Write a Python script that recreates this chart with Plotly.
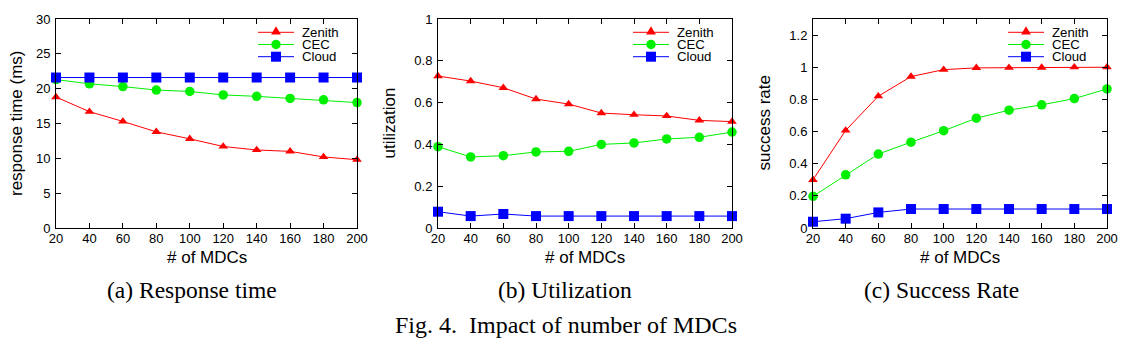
import math
import plotly.graph_objects as go

# browser window size; the page body adds an 8px margin around the figure
WIN_W, WIN_H = 1130, 359
OFF = 8
W, H = WIN_W - 2 * OFF, WIN_H - 2 * OFF

mdcs = [20, 40, 60, 80, 100, 120, 140, 160, 180, 200]

rt_zenith = [18.8, 16.7, 15.3, 13.8, 12.8, 11.7, 11.2, 11.0, 10.2, 9.8]
rt_cec = [21.3, 20.7, 20.3, 19.8, 19.6, 19.1, 18.9, 18.6, 18.4, 18.0]
rt_cloud = [21.6, 21.6, 21.6, 21.6, 21.6, 21.6, 21.6, 21.6, 21.6, 21.6]

ut_zenith = [0.727, 0.703, 0.671, 0.617, 0.593, 0.550, 0.542, 0.536, 0.515, 0.509]
ut_cec = [0.389, 0.340, 0.346, 0.364, 0.367, 0.400, 0.407, 0.426, 0.434, 0.459]
ut_cloud = [0.078, 0.057, 0.067, 0.057, 0.057, 0.057, 0.057, 0.057, 0.057, 0.057]

sr_zenith = [0.30, 0.607, 0.82, 0.942, 0.985, 0.996, 0.997, 0.998, 1.0, 1.0]
sr_cec = [0.197, 0.331, 0.46, 0.534, 0.605, 0.683, 0.733, 0.766, 0.805, 0.865]
sr_cloud = [0.039, 0.058, 0.097, 0.118, 0.118, 0.118, 0.118, 0.118, 0.118, 0.118]

series_names = ["Zenith", "CEC", "Cloud"]
colors = ["#ff0000", "#00f000", "#0000ff"]
symbols = ["triangle-up", "circle", "square"]
msizes = [8.5, 9.5, 10]

panels = [
    dict(data=[rt_zenith, rt_cec, rt_cloud], ytitle="response time (ms)",
         yrange=[0, 30], ytick=5, caption="(a) Response time", px=(56, 357),
         ytx=16.5, capx=192),
    dict(data=[ut_zenith, ut_cec, ut_cloud], ytitle="utilization",
         yrange=[0, 1], ytick=0.2, caption="(b) Utilization", px=(438, 732),
         ytx=389, capx=565),
    dict(data=[sr_zenith, sr_cec, sr_cloud], ytitle="success rate",
         yrange=[0, 1.3], ytick=0.2, caption="(c) Success Rate", px=(813, 1107),
         ytx=764, capx=941),
]

top_px, bot_px = 19, 228

SANS = "Liberation Sans, Arial, Helvetica, sans-serif"
SERIF = "Liberation Serif, Times New Roman, serif"


def fx(px):
    return (px - OFF) / W


def fy(py):
    return 1 - (py - OFF) / H


ydom = [fy(bot_px), fy(top_px)]

fig = go.Figure()
axfont = dict(family=SANS, size=13, color="black")
shapes = []
annotations = []


def label(text, x, y, size, family=SANS, xanchor="center", angle=0, pad=1):
    annotations.append(dict(text=text, xref="paper", yref="paper",
                            x=fx(x), y=fy(y), xanchor=xanchor, yanchor="middle",
                            textangle=angle, showarrow=False, borderpad=pad,
                            font=dict(family=family, size=size, color="black")))


for i, p in enumerate(panels):
    n = "" if i == 0 else str(i + 1)
    for s in range(3):
        fig.add_trace(go.Scatter(
            x=mdcs, y=p["data"][s], name=series_names[s],
            mode="lines+markers",
            line=dict(color=colors[s], width=1),
            marker=dict(color=colors[s], symbol=symbols[s], size=msizes[s]),
            xaxis="x" + n, yaxis="y" + n, cliponaxis=False, showlegend=False,
        ))
    x0, x1 = p["px"]
    common = dict(showline=True, linecolor="black", linewidth=1, mirror="ticks",
                  ticks="inside", ticklen=5, tickcolor="black", showgrid=False,
                  zeroline=False, tickfont=axfont, automargin=False)
    fig.update_layout(**{
        "xaxis" + n: dict(domain=[fx(x0), fx(x1)], anchor="y" + n, range=[20, 200],
                          tickmode="array", tickvals=mdcs, ticklabelstandoff=-2,
                          **common),
        "yaxis" + n: dict(domain=ydom, anchor="x" + n, range=p["yrange"], dtick=p["ytick"],
                          tick0=0, ticklabelstandoff=2, **common),
    })
    # axis titles
    label(p["ytitle"], p["ytx"], (top_px + bot_px) / 2, 17, angle=-90, pad=0)
    label("# of MDCs", (x0 + x1) / 2, 258, 17)
    # captions
    label(p["caption"], p["capx"], 290, 23.5, family=SERIF)
    # manual legend (gnuplot-style key)
    rows = [32.3, 44.5, 56.7]
    for s in range(3):
        yy = rows[s]
        shapes.append(dict(type="line", xref="paper", yref="paper",
                           x0=fx(x1 - 99), x1=fx(x1 - 63), y0=fy(yy), y1=fy(yy),
                           line=dict(color=colors[s], width=1)))
        cx = x1 - 81
        if s == 0:
            r = 4.25
            rt = r * 2 / math.sqrt(3)
            path = "M{},{} L{},{} L{},{} Z".format(
                fx(cx - rt), fy(yy + r / 2), fx(cx + rt), fy(yy + r / 2),
                fx(cx), fy(yy - r * math.sqrt(2)))
            shapes.append(dict(type="path", xref="paper", yref="paper", path=path,
                               fillcolor=colors[s], line=dict(width=0)))
        elif s == 1:
            r = 4.75
            shapes.append(dict(type="circle", xref="paper", yref="paper",
                               x0=fx(cx - r), x1=fx(cx + r), y0=fy(yy + r), y1=fy(yy - r),
                               fillcolor=colors[s], line=dict(width=0)))
        else:
            r = 5
            shapes.append(dict(type="rect", xref="paper", yref="paper",
                               x0=fx(cx - r), x1=fx(cx + r), y0=fy(yy + r), y1=fy(yy - r),
                               fillcolor=colors[s], line=dict(width=0)))
        label(series_names[s], x1 - 56, yy, 13.2, xanchor="left", pad=0)

label("Fig. 4.  Impact of number of MDCs", 565.5, 325, 24, family=SERIF)

fig.update_layout(width=W, height=H,
                  margin=dict(l=0, r=0, t=0, b=0, pad=0, autoexpand=False),
                  plot_bgcolor="white", paper_bgcolor="white", showlegend=False,
                  shapes=shapes, annotations=annotations)

fig.write_html("out.html")
